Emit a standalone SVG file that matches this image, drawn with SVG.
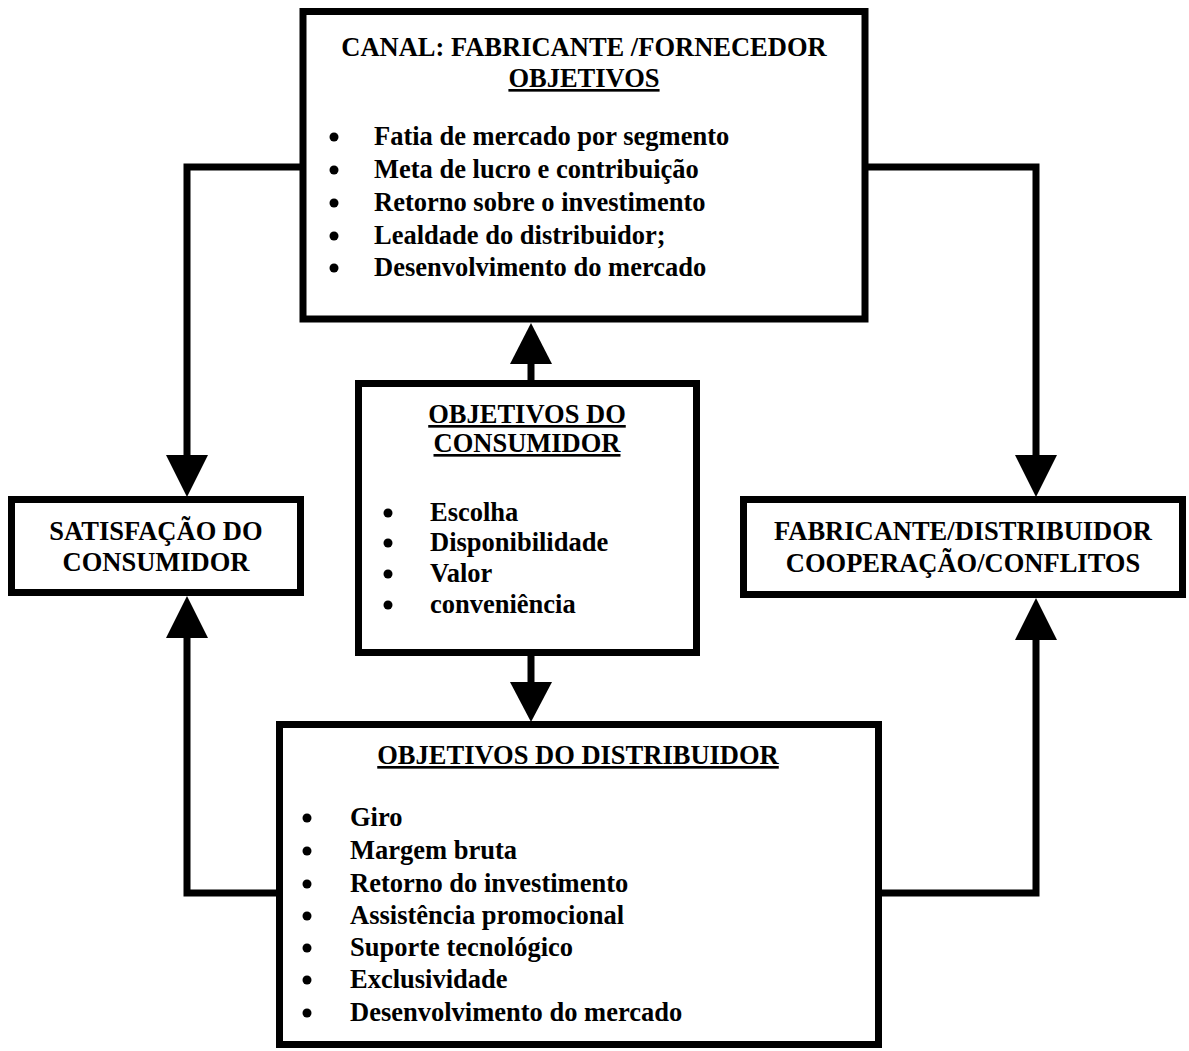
<svg xmlns="http://www.w3.org/2000/svg" width="1189" height="1051" viewBox="0 0 1189 1051">
  <style>
    .box { fill: #fff; stroke: #000; stroke-width: 7; }
    .t { font-family: "Liberation Serif", "Times New Roman", serif; font-weight: bold; font-size: 26.5px; fill: #000; }
    .c { text-anchor: middle; }
    .u { text-decoration: underline; }
    .wire { fill: none; stroke: #000; stroke-width: 7; stroke-linejoin: miter; }
    .head { fill: #000; }
    .dot { fill: #000; }
  </style>
  <rect width="1189" height="1051" fill="#fff"/>

  <!-- connectors -->
  <g id="connectors">
    <path class="wire" d="M303,167 H187 V458"/>
    <polygon class="head" points="166,455 208,455 187,497"/>
    <path class="wire" d="M866,167 H1036 V458"/>
    <polygon class="head" points="1015,455 1057,455 1036,497"/>
    <path class="wire" d="M279,893 H187 V634"/>
    <polygon class="head" points="166,638 208,638 187,596"/>
    <path class="wire" d="M879,893 H1036 V636"/>
    <polygon class="head" points="1015,640 1057,640 1036,598"/>
    <path class="wire" d="M531,384 V360"/>
    <polygon class="head" points="510,364 552,364 531,323"/>
    <path class="wire" d="M531,652 V686"/>
    <polygon class="head" points="510,682 552,682 531,722"/>
  </g>

  <!-- manufacturer / supplier goals -->
  <g id="canal-fabricante">
    <rect class="box" x="303" y="11.5" width="562" height="307.5"/>
    <text class="t c" x="584" y="56">CANAL: FABRICANTE /FORNECEDOR</text>
    <text class="t c u" x="584" y="87">OBJETIVOS</text>
    <circle class="dot" cx="334" cy="137" r="4.5"/>
    <circle class="dot" cx="334" cy="170" r="4.5"/>
    <circle class="dot" cx="334" cy="203" r="4.5"/>
    <circle class="dot" cx="334" cy="236" r="4.5"/>
    <circle class="dot" cx="334" cy="268" r="4.5"/>
    <text class="t" x="374" y="145">Fatia de mercado por segmento</text>
    <text class="t" x="374" y="178">Meta de lucro e contribuição</text>
    <text class="t" x="374" y="211">Retorno sobre o investimento</text>
    <text class="t" x="374" y="244">Lealdade do distribuidor;</text>
    <text class="t" x="374" y="276">Desenvolvimento do mercado</text>
  </g>

  <!-- consumer goals -->
  <g id="objetivos-consumidor">
    <rect class="box" x="358.5" y="383.5" width="338" height="269"/>
    <text class="t c u" x="527" y="423">OBJETIVOS DO</text>
    <text class="t c u" x="527" y="452">CONSUMIDOR</text>
    <circle class="dot" cx="388" cy="513" r="4.5"/>
    <circle class="dot" cx="388" cy="543" r="4.5"/>
    <circle class="dot" cx="388" cy="574" r="4.5"/>
    <circle class="dot" cx="388" cy="605" r="4.5"/>
    <text class="t" x="430" y="521">Escolha</text>
    <text class="t" x="430" y="551">Disponibilidade</text>
    <text class="t" x="430" y="582">Valor</text>
    <text class="t" x="430" y="613">conveniência</text>
  </g>

  <!-- consumer satisfaction -->
  <g id="satisfacao-consumidor">
    <rect class="box" x="11.5" y="499.5" width="289" height="93"/>
    <text class="t c" x="156" y="540">SATISFAÇÃO DO</text>
    <text class="t c" x="156" y="571">CONSUMIDOR</text>
  </g>

  <!-- manufacturer / distributor relationship -->
  <g id="cooperacao-conflitos">
    <rect class="box" x="743.5" y="499.5" width="439" height="95"/>
    <text class="t c" x="963" y="540">FABRICANTE/DISTRIBUIDOR</text>
    <text class="t c" x="963" y="572">COOPERAÇÃO/CONFLITOS</text>
  </g>

  <!-- distributor goals -->
  <g id="objetivos-distribuidor">
    <rect class="box" x="279.5" y="724.5" width="599" height="320"/>
    <text class="t c u" x="578" y="764">OBJETIVOS DO DISTRIBUIDOR</text>
    <circle class="dot" cx="307" cy="818" r="4.5"/>
    <circle class="dot" cx="307" cy="851" r="4.5"/>
    <circle class="dot" cx="307" cy="884" r="4.5"/>
    <circle class="dot" cx="307" cy="916" r="4.5"/>
    <circle class="dot" cx="307" cy="948" r="4.5"/>
    <circle class="dot" cx="307" cy="980" r="4.5"/>
    <circle class="dot" cx="307" cy="1013" r="4.5"/>
    <text class="t" x="350" y="826">Giro</text>
    <text class="t" x="350" y="859">Margem bruta</text>
    <text class="t" x="350" y="892">Retorno do investimento</text>
    <text class="t" x="350" y="924">Assistência promocional</text>
    <text class="t" x="350" y="956">Suporte tecnológico</text>
    <text class="t" x="350" y="988">Exclusividade</text>
    <text class="t" x="350" y="1021">Desenvolvimento do mercado</text>
  </g>
</svg>
